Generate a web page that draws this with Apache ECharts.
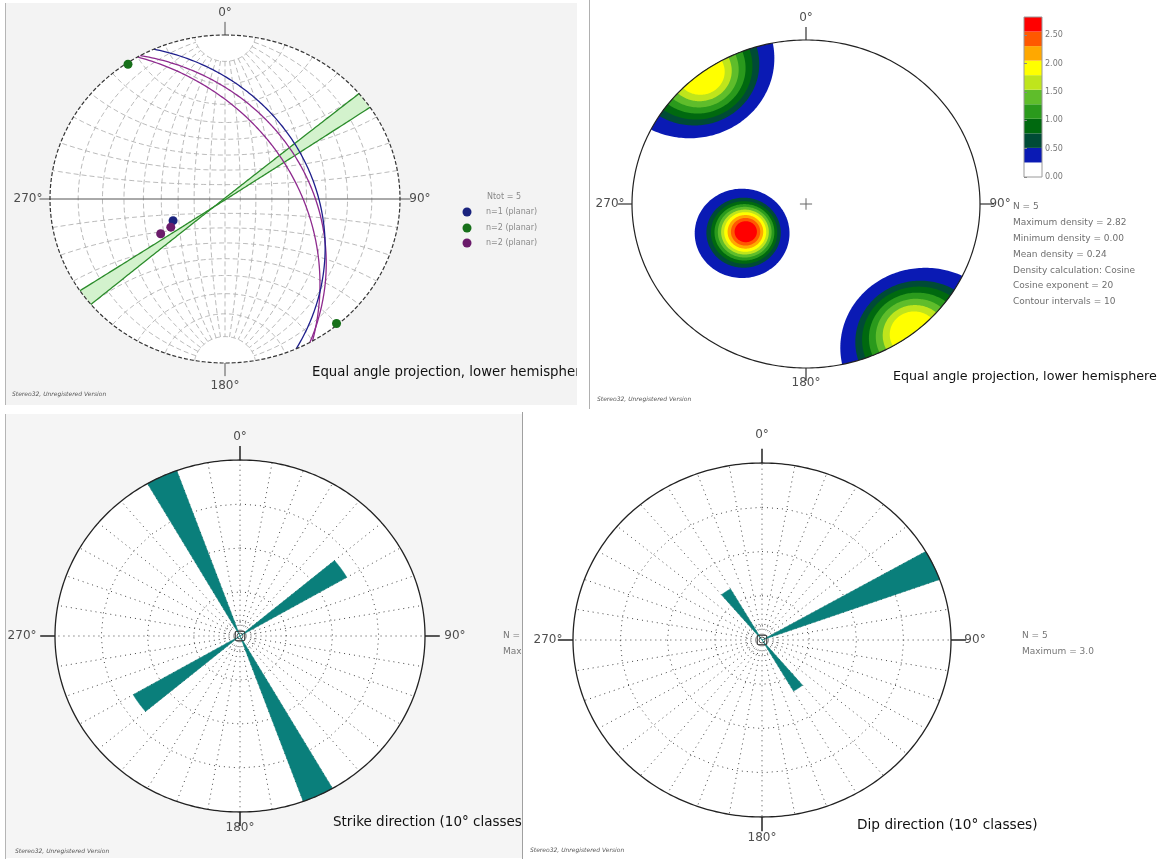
<!DOCTYPE html>
<html>
<head>
<meta charset="utf-8">
<script src="https://cdn.jsdelivr.net/npm/echarts/dist/echarts.min.js"></script>
<style>
html, body { margin: 0; padding: 0; background: #ffffff; }
#chart { width: 1175px; height: 859px; }
</style>
</head>
<body>
<div id="chart"></div>
<script>
// ---------------- data ----------------
// Planes as [dip direction, dip] in degrees
const bluePlanes   = [[66, 36]];
const greenPlanes  = [[146, 89.5], [320, 89.5]];
const purplePlanes = [[61, 39], [60, 46]];
const legendTitle  = 'Ntot = 5';
const legendNames  = ['n=1 (planar)', 'n=2 (planar)', 'n=2 (planar)'];

// Pole density (cosine method): contour levels and band colours
const densityLevels = [0, 0.256, 0.513, 0.769, 1.026, 1.282, 1.538, 1.795, 2.051, 2.307, 2.564, 2.82];
const densityColors = ['#ffffff', '#0a1ab4', '#004b36', '#00690f', '#2a9a1c', '#5fbd2b',
                       '#bfe51c', '#ffff00', '#ffa800', '#ff5800', '#ff0000'];
// density maxima as [trend, plunge] and the angular radius (deg) of each contour around them
const densityPeaks = [[244, 48], [323, 0], [142, 0]];
const contourRadii = [
  [26.5, 21, 18.8, 17, 15.3, 13.6, 12, 10.2, 8.4, 6.4],
  [26, 20.5, 18, 15.5, 13, 10.5, 8],
  [26, 20.5, 18, 15.5, 13, 10.5, 8]
];
const colorbarTicks = [0, 0.5, 1, 1.5, 2, 2.5];
const densityInfo = ['N = 5', 'Maximum density = 2.82', 'Minimum density = 0.00', 'Mean density = 0.24',
                     'Density calculation: Cosine', 'Cosine exponent = 20', 'Contour intervals = 10'];

// Rose diagrams: 10° classes (class start) and counts
const strikeClasses = [50, 150, 230, 330];
const strikeCounts  = [2, 3, 2, 3];
const dipClasses    = [60, 140, 320];
const dipCounts     = [3, 1, 1];
const roseMax       = 3;
const roseInfo      = ['N = 5', 'Maximum = 3.0'];

const compassLabels = ['0°', '90°', '180°', '270°'];

// ---------------- geometry helpers ----------------
const D = Math.PI / 180;
// stereographic (equal angle) projection of a unit vector (east, north, down)
function proj(e, n, d) { return [e / (1 + d), n / (1 + d)]; }
function lineVec(trend, plunge) {
  return [Math.sin(trend * D) * Math.cos(plunge * D), Math.cos(trend * D) * Math.cos(plunge * D), Math.sin(plunge * D)];
}
function greatCircle(dd, dip, a0, a1, step) {
  a0 = a0 == null ? 0 : a0; a1 = a1 == null ? 180 : a1; step = step || 1;
  const s = [Math.sin((dd - 90) * D), Math.cos((dd - 90) * D), 0];
  const v = [Math.sin(dd * D) * Math.cos(dip * D), Math.cos(dd * D) * Math.cos(dip * D), Math.sin(dip * D)];
  const pts = [];
  for (let a = a0; a <= a1 + 1e-9; a += step) {
    const c = Math.cos(a * D), sn = Math.sin(a * D);
    pts.push(proj(c * s[0] + sn * v[0], c * s[1] + sn * v[1], c * s[2] + sn * v[2]));
  }
  return pts;
}
function smallCircle(trend, plunge, alpha, f0, f1, step) {
  const A = lineVec(trend, plunge);
  const U = [Math.cos(trend * D), -Math.sin(trend * D), 0];
  const V = [-Math.sin(trend * D) * Math.sin(plunge * D), -Math.cos(trend * D) * Math.sin(plunge * D), Math.cos(plunge * D)];
  const ca = Math.cos(alpha * D), sa = Math.sin(alpha * D);
  const pts = [];
  for (let f = f0; f <= f1 + 1e-9; f += step) {
    const c = Math.cos(f * D), s = Math.sin(f * D);
    pts.push(proj(ca * A[0] + sa * (c * U[0] + s * V[0]),
                  ca * A[1] + sa * (c * U[1] + s * V[1]),
                  ca * A[2] + sa * (c * U[2] + s * V[2])));
  }
  return pts;
}
function poleOf(plane) {
  const v = lineVec(plane[0] + 180, 90 - plane[1]);
  return proj(v[0], v[1], v[2]);
}
function unitCircle(r, step) {
  const pts = [];
  for (let a = 0; a <= 360; a += step) pts.push([r * Math.sin(a * D), r * Math.cos(a * D)]);
  return pts;
}

// ---------------- layout ----------------
const E = 1.3; // axis extent in net radii
const panels = [
  { cx: 225, cy: 199, rx: 175, ry: 164 },   // stereonet
  { cx: 806, cy: 204, rx: 174, ry: 164 },   // density
  { cx: 240, cy: 636, rx: 185, ry: 176 },   // strike rose
  { cx: 762, cy: 640, rx: 189, ry: 177 }    // dip rose
];
const labelOffsets = [
  { n: 1.134, e: 1.114, s: -1.14, w: -1.126 },
  { n: 1.134, e: 1.115, s: -1.09, w: -1.126 },
  { n: 1.13, e: 1.162, s: -1.09, w: -1.178 },
  { n: 1.158, e: 1.127, s: -1.119, w: -1.132 }
];
const grids = panels.map(p => ({
  left: p.cx - E * p.rx, top: p.cy - E * p.ry, width: 2 * E * p.rx, height: 2 * E * p.ry,
  show: false, containLabel: false, outerBoundsMode: 'none'
}));
grids.push({ left: 1024, top: 17, width: 18, height: 160, show: false, containLabel: false, outerBoundsMode: 'none' });

const xAxes = panels.map((p, i) => ({ type: 'value', gridIndex: i, min: -E, max: E, show: false }));
const yAxes = panels.map((p, i) => ({ type: 'value', gridIndex: i, min: -E, max: E, show: false }));
xAxes.push({ type: 'value', gridIndex: 4, min: 0, max: 1, show: false });
yAxes.push({
  type: 'value', gridIndex: 4, min: 0, max: 2.82, interval: 0.5, position: 'right', z: 20,
  axisLine: { show: false },
  axisTick: { show: true, length: 3, lineStyle: { color: '#888', width: 1 }, customValues: colorbarTicks },
  axisLabel: { show: true, fontSize: 8, color: '#777', margin: 3, fontFamily: 'DejaVu Sans',
               customValues: colorbarTicks, formatter: v => Number(v).toFixed(2) },
  splitLine: { show: false }
});

// ---------------- series builders ----------------
function discSeries(idx, fill, stroke, dash, width, z) {
  return {
    type: 'custom', xAxisIndex: idx, yAxisIndex: idx, z: z, silent: true, clip: false, data: [[0, 0]],
    renderItem: (params, api) => ({
      type: 'polygon',
      shape: { points: unitCircle(1, 1).map(pt => api.coord(pt)) },
      style: { fill: fill || 'none', stroke: stroke || 'none', lineWidth: width || 1, lineDash: dash || null }
    })
  };
}
function polySeries(idx, lines, color, width, type, z) {
  return {
    type: 'lines', coordinateSystem: 'cartesian2d', xAxisIndex: idx, yAxisIndex: idx,
    polyline: true, silent: true, z: z || 10, clip: false,
    lineStyle: { color: color, width: width, type: type || 'solid', opacity: 1 },
    effect: { show: false },
    data: lines.map(c => ({ coords: c }))
  };
}
function labelSeries(idx) {
  const o = labelOffsets[idx];
  return {
    type: 'scatter', xAxisIndex: idx, yAxisIndex: idx, z: 12, silent: true, clip: false,
    symbolSize: 1, itemStyle: { color: 'rgba(0,0,0,0)' },
    label: { show: true, position: 'inside', formatter: '{b}', fontSize: 12, color: '#222', fontFamily: 'DejaVu Sans' },
    data: [
      { name: compassLabels[0], value: [0, o.n] },
      { name: compassLabels[1], value: [o.e, 0] },
      { name: compassLabels[2], value: [0, o.s] },
      { name: compassLabels[3], value: [o.w, 0] }
    ]
  };
}
function tickLines(len) {
  return [[[0, 1], [0, 1 + len]], [[0, -1], [0, -1 - len]], [[1, 0], [1 + len, 0]], [[-1, 0], [-1 - len, 0]]];
}
function roseSeries(idx, classes, counts) {
  return {
    type: 'custom', xAxisIndex: idx, yAxisIndex: idx, z: 11, silent: true, clip: false,
    data: classes.map((c, i) => [c, counts[i]]),
    renderItem: (params, api) => {
      const start = api.value(0), r = api.value(1) / roseMax;
      const pts = [api.coord([0, 0])];
      for (let a = start; a <= start + 10 + 1e-9; a += 0.5) pts.push(api.coord([r * Math.sin(a * D), r * Math.cos(a * D)]));
      return { type: 'polygon', shape: { points: pts }, style: { fill: '#0a7f7b', stroke: '#0a7f7b', lineWidth: 0.5 } };
    }
  };
}
function roseGridSeries(idx) {
  const out = [];
  const spokes = [];
  for (let a = 0; a < 360; a += 10) {
    spokes.push([[0.03 * Math.sin(a * D), 0.03 * Math.cos(a * D)], [Math.sin(a * D), Math.cos(a * D)]]);
  }
  const rings = [0.08, 0.25, 0.5, 0.75].map(r => unitCircle(r, 10));
  out.push(polySeries(idx, spokes, '#444', 1, [1, 4], 9));
  out.push(polySeries(idx, rings, '#444', 1, [1, 4], 9));
  out.push({
    type: 'scatter', xAxisIndex: idx, yAxisIndex: idx, z: 13, silent: true, clip: false,
    data: [[0, 0]], symbol: 'rect', symbolSize: 9,
    itemStyle: { color: 'rgba(255,255,255,0)', borderColor: '#333', borderWidth: 1 }
  });
  out.push({
    type: 'scatter', xAxisIndex: idx, yAxisIndex: idx, z: 13, silent: true, clip: false,
    data: [[0, 0]], symbol: 'circle', symbolSize: 6,
    itemStyle: { color: 'rgba(255,255,255,0)', borderColor: '#333', borderWidth: 1 }
  });
  return out;
}

// ---------------- stereonet (panel 0) ----------------
const netLines = [];
for (let dip = 10; dip <= 80; dip += 10) {
  netLines.push(greatCircle(90, dip, 10, 170, 2));
  netLines.push(greatCircle(270, dip, 10, 170, 2));
}
netLines.push(greatCircle(90, 90, 10, 170, 2));
for (let b = 10; b <= 80; b += 10) {
  netLines.push(smallCircle(0, 0, b, 0, 180, 2));
  netLines.push(smallCircle(180, 0, b, 0, 180, 2));
}

const series = [];
series.push(discSeries(0, '#ffffff', null, null, 1, 3));
series.push(polySeries(0, netLines, '#a8a8a8', 0.8, [5, 3], 5));
series.push(polySeries(0, [[[-1.06, 0], [1.06, 0]], [[0, 1], [0, 1.08]], [[0, -1], [0, -1.08]]], '#555', 1, 'solid', 6));
series.push({
  type: 'custom', xAxisIndex: 0, yAxisIndex: 0, z: 7, silent: true, clip: false, data: [[0, 0]],
  renderItem: (params, api) => {
    const pts = greatCircle(greenPlanes[0][0], greenPlanes[0][1]).concat(greatCircle(greenPlanes[1][0], greenPlanes[1][1]));
    return { type: 'polygon', shape: { points: pts.map(pt => api.coord(pt)) }, style: { fill: '#d3f2cd', stroke: 'none' } };
  }
});
series.push(polySeries(0, greenPlanes.map(p => greatCircle(p[0], p[1])), '#2b8c2b', 1.3, 'solid', 8));
series.push(polySeries(0, purplePlanes.map(p => greatCircle(p[0], p[1])), '#8e2a8e', 1.3, 'solid', 8));
series.push(polySeries(0, bluePlanes.map(p => greatCircle(p[0], p[1])), '#1f1f8c', 1.3, 'solid', 8));
series.push(discSeries(0, null, '#333', [4, 2], 1.2, 9));
[[bluePlanes, '#1a237e'], [greenPlanes, '#17701a'], [purplePlanes, '#6b1b6b']].forEach(([planes, col]) => {
  series.push({
    type: 'scatter', xAxisIndex: 0, yAxisIndex: 0, z: 12, silent: true, clip: false,
    symbolSize: 9, itemStyle: { color: col, opacity: 1 },
    data: planes.map(poleOf)
  });
});
series.push(labelSeries(0));

// ---------------- density (panel 1) ----------------
series.push(discSeries(1, '#ffffff', null, null, 1, 3));
const densityItems = [];
for (let l = 0; l < 10; l++) {
  contourRadii.forEach((radii, b) => { if (l < radii.length) densityItems.push([b, l]); });
}
series.push({
  type: 'custom', xAxisIndex: 1, yAxisIndex: 1, z: 6, silent: true, clip: false,
  data: densityItems,
  renderItem: (params, api) => {
    const b = api.value(0), l = api.value(1);
    const peak = densityPeaks[b];
    const pts = smallCircle(peak[0], peak[1], contourRadii[b][l], 0, 360, 2).map(([x, y]) => {
      const r = Math.hypot(x, y);
      return api.coord(r > 1 ? [x / r, y / r] : [x, y]);
    });
    return { type: 'polygon', shape: { points: pts }, style: { fill: densityColors[l + 1], stroke: 'none' } };
  }
});
series.push(discSeries(1, null, '#222', null, 1.2, 9));
series.push(polySeries(1, tickLines(0.08), '#333', 1.2, 'solid', 9));
series.push(polySeries(1, [[[-0.035, 0], [0.035, 0]], [[0, -0.035], [0, 0.035]]], '#666', 1, 'solid', 9));
series.push(labelSeries(1));

// colour bar
series.push({
  type: 'custom', xAxisIndex: 4, yAxisIndex: 4, z: 10, silent: true, clip: false,
  data: densityColors.map((c, i) => [densityLevels[i], densityLevels[i + 1], i]),
  renderItem: (params, api) => {
    const p1 = api.coord([0, api.value(1)]), p2 = api.coord([1, api.value(0)]);
    return { type: 'rect', shape: { x: p1[0], y: p1[1], width: p2[0] - p1[0], height: p2[1] - p1[1] },
             style: { fill: densityColors[api.value(2)], stroke: 'none' } };
  }
});
series.push({
  type: 'custom', xAxisIndex: 4, yAxisIndex: 4, z: 11, silent: true, clip: false, data: [[0, 0]],
  renderItem: (params, api) => {
    const p1 = api.coord([0, densityLevels[densityLevels.length - 1]]), p2 = api.coord([1, 0]);
    return { type: 'rect', shape: { x: p1[0], y: p1[1], width: p2[0] - p1[0], height: p2[1] - p1[1] },
             style: { fill: 'none', stroke: '#9a9a9a', lineWidth: 1 } };
  }
});

// ---------------- rose diagrams (panels 2, 3) ----------------
[[2, strikeClasses, strikeCounts], [3, dipClasses, dipCounts]].forEach(([idx, cls, cnt]) => {
  series.push(discSeries(idx, '#ffffff', null, null, 1, 3));
  roseGridSeries(idx).forEach(s => series.push(s));
  series.push(roseSeries(idx, cls, cnt));
  series.push(discSeries(idx, null, '#222', null, 1.3, 12));
  series.push(polySeries(idx, tickLines(0.08), '#222', 1.5, 'solid', 12));
  series.push(labelSeries(idx));
});

// ---------------- panel frames and texts ----------------
const txt = (x, y, text, size, color, z, extra) => Object.assign({
  type: 'text', x: x, y: y, z: z, silent: true,
  style: Object.assign({ text: text, fontSize: size, fill: color, fontFamily: 'DejaVu Sans', verticalAlign: 'middle' }, extra || {})
});
const footer = 'Stereo32, Unregistered Version';
const graphics = [
  // left panels: grey backgrounds
  { type: 'rect', z: 1, silent: true, shape: { x: 5, y: 3, width: 590, height: 402 }, style: { fill: '#f3f3f3' } },
  { type: 'line', z: 1, silent: true, shape: { x1: 5.5, y1: 3, x2: 5.5, y2: 405 }, style: { stroke: '#b5b5b5', lineWidth: 1 } },
  { type: 'rect', z: 1, silent: true, shape: { x: 5, y: 414, width: 530, height: 444 }, style: { fill: '#f5f5f5' } },
  { type: 'line', z: 1, silent: true, shape: { x1: 5.5, y1: 414, x2: 5.5, y2: 859 }, style: { stroke: '#b5b5b5', lineWidth: 1 } },

  // stereonet legend and captions
  txt(487, 197, legendTitle, 8, '#8a8a8a', 2),
  { type: 'circle', z: 2, silent: true, shape: { cx: 467, cy: 212, r: 4.5 }, style: { fill: '#1a237e' } },
  { type: 'circle', z: 2, silent: true, shape: { cx: 467, cy: 228, r: 4.5 }, style: { fill: '#17701a' } },
  { type: 'circle', z: 2, silent: true, shape: { cx: 467, cy: 243, r: 4.5 }, style: { fill: '#6b1b6b' } },
  txt(486, 212, legendNames[0], 8, '#8a8a8a', 2),
  txt(486, 228, legendNames[1], 8, '#8a8a8a', 2),
  txt(486, 243, legendNames[2], 8, '#8a8a8a', 2),
  txt(312, 373, 'Equal angle projection, lower hemisphere', 13.3, '#111', 2),
  txt(12, 394, footer, 6, '#555', 2, { fontStyle: 'italic' }),

  // strike rose captions
  txt(333, 822, 'Strike direction (10° classes)', 13.5, '#111', 2),
  txt(503, 636, roseInfo[0], 9, '#777', 2),
  txt(503, 652, roseInfo[1], 9, '#777', 2),
  txt(15, 851, footer, 6, '#555', 2, { fontStyle: 'italic' }),

  // right panels: white backgrounds with a separating rule
  { type: 'rect', z: 3, silent: true, shape: { x: 577, y: 0, width: 598, height: 409 }, style: { fill: '#ffffff' } },
  { type: 'line', z: 3, silent: true, shape: { x1: 589.5, y1: 0, x2: 589.5, y2: 409 }, style: { stroke: '#b0b0b0', lineWidth: 1 } },
  { type: 'rect', z: 3, silent: true, shape: { x: 522, y: 409, width: 653, height: 450 }, style: { fill: '#ffffff' } },
  { type: 'line', z: 3, silent: true, shape: { x1: 522.5, y1: 412, x2: 522.5, y2: 859 }, style: { stroke: '#a0a0a0', lineWidth: 1 } },

  // density captions
  txt(893, 377, 'Equal angle projection, lower hemisphere', 12.7, '#111', 4),
  txt(597, 399, footer, 6, '#555', 4, { fontStyle: 'italic' }),
  // dip rose captions
  txt(857, 825, 'Dip direction (10° classes)', 13.7, '#111', 4),
  txt(1022, 636, roseInfo[0], 9, '#777', 4),
  txt(1022, 652, roseInfo[1], 9, '#777', 4),
  txt(530, 850, footer, 6, '#555', 4, { fontStyle: 'italic' })
];
densityInfo.forEach((t, i) => graphics.push(txt(1013, 207 + i * 15.8, t, 9, '#6f6f6f', 4)));

const chart = echarts.init(document.getElementById('chart'), null, { renderer: 'canvas' });
chart.setOption({
  animation: false,
  backgroundColor: '#ffffff',
  grid: grids,
  xAxis: xAxes,
  yAxis: yAxes,
  graphic: { elements: graphics },
  series: series
});
</script>
</body>
</html>
